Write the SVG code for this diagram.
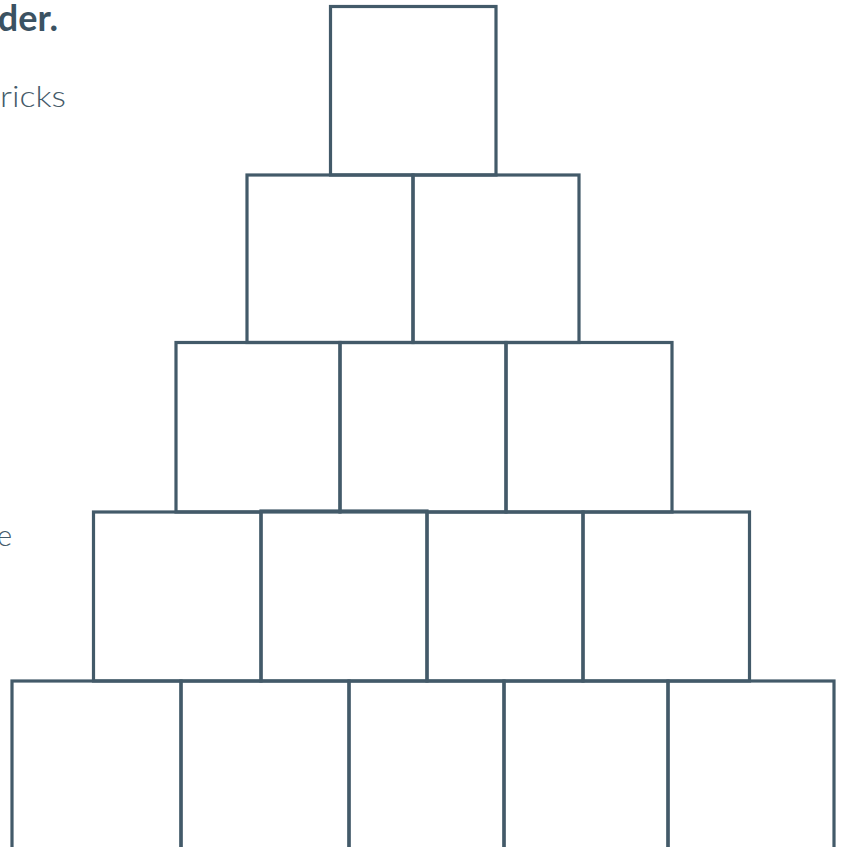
<svg xmlns="http://www.w3.org/2000/svg" width="845" height="847" viewBox="0 0 845 847">
<style>
.b{fill:none;stroke:#435a69;stroke-width:3.2}
.t{font-family:Lato,"Open Sans","Liberation Sans",sans-serif;fill:#445a69}
.h{font-weight:700;font-size:36px;fill:#3b5262}
.p{font-weight:300;font-size:29px}
</style>
<rect width="845" height="847" fill="#ffffff"/>
<g id="text">
<text class="t h" x="58" y="31" text-anchor="end">der.</text>
<text class="t p" x="0" y="107" textLength="66" lengthAdjust="spacingAndGlyphs">ricks</text>
<text class="t p" x="12" y="546" text-anchor="end">e</text>
</g>
<g id="row1">
<rect id="b1_1" class="b" x="330.5" y="6.5" width="165.5" height="168.5"/>
</g>
<g id="row2">
<rect id="b2_1" class="b" x="247" y="175" width="166" height="167.5"/>
<rect id="b2_2" class="b" x="413" y="175" width="166" height="167.5"/>
</g>
<g id="row3">
<rect id="b3_1" class="b" x="176" y="342.5" width="164" height="169.5"/>
<rect id="b3_2" class="b" x="340" y="342.5" width="166" height="169.5"/>
<rect id="b3_3" class="b" x="506" y="342.5" width="166" height="169.5"/>
</g>
<g id="row4">
<rect id="b4_1" class="b" x="93.5" y="512" width="167.5" height="169"/>
<rect id="b4_2" class="b" x="261" y="511" width="166" height="170"/>
<rect id="b4_3" class="b" x="427" y="512" width="156" height="169"/>
<rect id="b4_4" class="b" x="583" y="512" width="166.5" height="169"/>
</g>
<g id="row5">
<rect id="b5_1" class="b" x="12" y="681" width="169" height="180"/>
<rect id="b5_2" class="b" x="181" y="681" width="168" height="180"/>
<rect id="b5_3" class="b" x="349" y="681" width="155" height="180"/>
<rect id="b5_4" class="b" x="504" y="681" width="164" height="180"/>
<rect id="b5_5" class="b" x="668" y="681" width="166" height="180"/>
</g>
<g id="connectors"></g>
</svg>
